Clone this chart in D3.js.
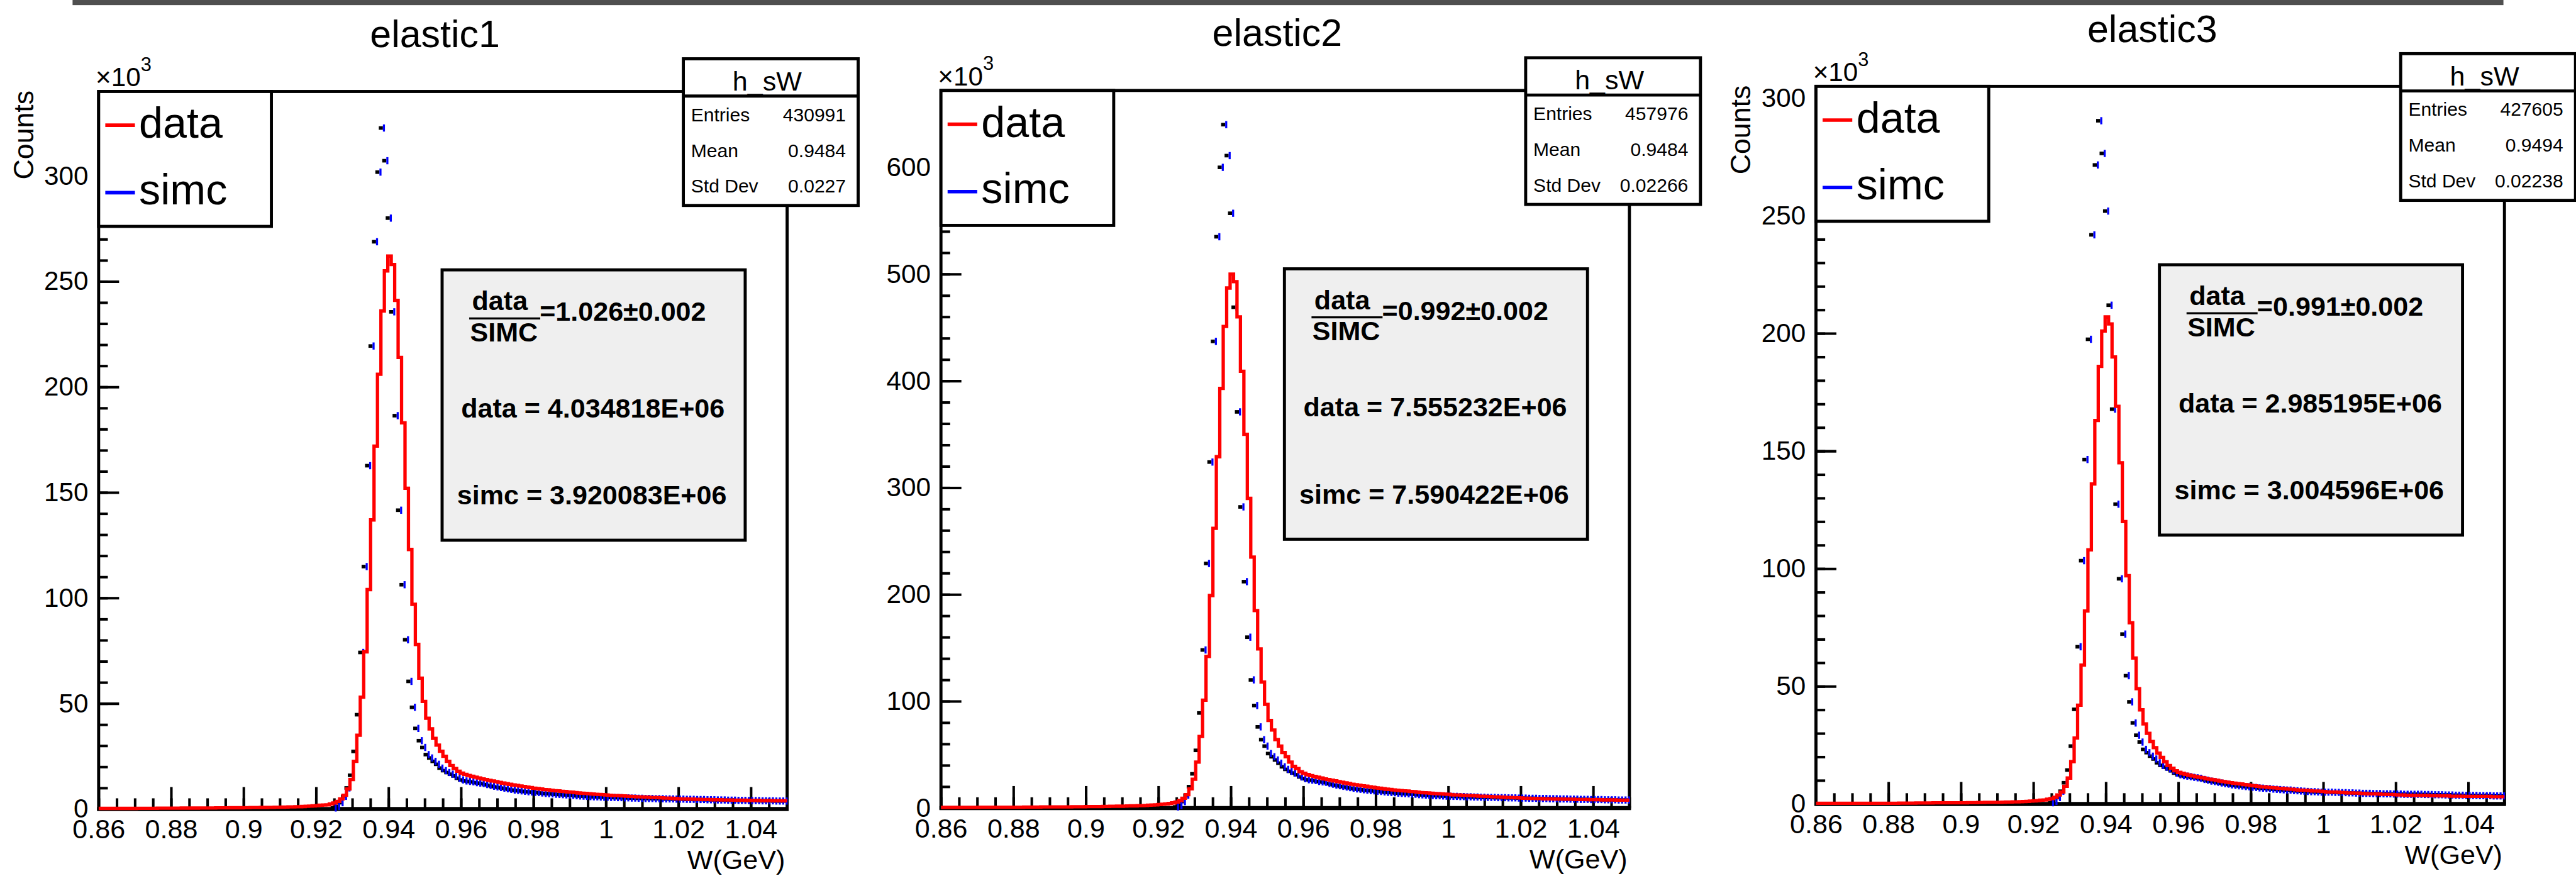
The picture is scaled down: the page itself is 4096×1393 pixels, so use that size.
<!DOCTYPE html>
<html>
<head>
<meta charset="utf-8">
<script src="https://cdn.jsdelivr.net/npm/d3@7"></script>
<style>
  html, body { margin: 0; padding: 0; background: #fff; }
  svg { display: block; }
  text { font-family: "Liberation Sans", Arial, Helvetica, sans-serif; fill: #000; }
</style>
</head>
<body>
<div id="chart--wrapper"></div>
<script>
// W binning of h_sW
const binLow = 0.86;
const binHigh = 1.05;
const binCount = 200;

const titles = ['elastic1', 'elastic2', 'elastic3'];
const entries = ['430991', '457976', '427605'];
const means = ['0.9484', '0.9484', '0.9494'];
const stdDevs = ['0.0227', '0.02266', '0.02238'];
const ratios = ['=1.026\u00b10.002', '=0.992\u00b10.002', '=0.991\u00b10.002'];
const dataTotals = ['data = 4.034818E+06', 'data = 7.555232E+06', 'data = 2.985195E+06'];
const simcTotals = ['simc = 3.920083E+06', 'simc = 7.590422E+06', 'simc = 3.004596E+06'];

// axis ranges and labels (counts in units of 10^3)
const yMax = [340, 672, 305];
const xMajorTicks = [0.86, 0.88, 0.9, 0.92, 0.94, 0.96, 0.98, 1, 1.02, 1.04];
const yMajorTicks1 = [0, 50, 100, 150, 200, 250, 300];
const yMajorTicks2 = [0, 100, 200, 300, 400, 500, 600];
const yMajorTicks3 = [0, 50, 100, 150, 200, 250, 300];
const yMinorStep = [10, 20, 10];

// elastic1
const data1 = [
  0.3, 0.3, 0.3, 0.3, 0.3, 0.3, 0.3, 0.3, 0.3, 0.3,
  0.3, 0.35, 0.35, 0.35, 0.35, 0.35, 0.35, 0.4, 0.4, 0.4,
  0.4, 0.4, 0.4, 0.4, 0.45, 0.45, 0.45, 0.45, 0.45, 0.5,
  0.5, 0.5, 0.5, 0.5, 0.55, 0.55, 0.55, 0.55, 0.6, 0.6,
  0.6, 0.6, 0.65, 0.65, 0.7, 0.7, 0.7, 0.75, 0.75, 0.8,
  0.8, 0.85, 0.85, 0.9, 0.95, 1.0, 1.0, 1.1, 1.1, 1.2,
  1.3, 1.4, 1.5, 1.6, 1.8, 1.9, 2.0, 2.4, 2.9, 3.6,
  4.8, 6.5, 9.5, 14, 22.6, 35, 53, 74.5, 104, 137,
  172, 206, 236, 255, 262, 258, 241, 214, 183, 152,
  123, 97, 78, 62, 51, 43, 38, 33.5, 30.3, 27.4,
  25, 22.6, 20.6, 19.2, 17.9, 17.0, 16.4, 15.9, 15.5, 15.1,
  14.7, 14.3, 14.0, 13.6, 13.3, 13.0, 12.6, 12.3, 12.0, 11.7,
  11.4, 11.2, 10.9, 10.7, 10.4, 10.2, 9.9, 9.7, 9.5, 9.2,
  9.1, 8.9, 8.7, 8.6, 8.4, 8.3, 8.1, 8.0, 7.8, 7.6,
  7.5, 7.4, 7.3, 7.1, 7.0, 6.9, 6.8, 6.7, 6.5, 6.4,
  6.4, 6.3, 6.2, 6.1, 6.0, 5.9, 5.8, 5.8, 5.7, 5.6,
  5.5, 5.5, 5.4, 5.3, 5.2, 5.2, 5.1, 5.0, 4.9, 4.8,
  4.8, 4.7, 4.7, 4.6, 4.6, 4.5, 4.5, 4.5, 4.4, 4.4,
  4.4, 4.3, 4.3, 4.3, 4.2, 4.2, 4.2, 4.2, 4.1, 4.1,
  4.1, 4.1, 4.0, 4.0, 4.0, 4.0, 3.9, 3.9, 3.9, 3.9
];
const simc1 = [
  0, 0, 0, 0, 0, 0, 0, 0, 0, 0,
  0, 0, 0, 0, 0, 0, 0, 0, 0, 0,
  0, 0, 0, 0, 0, 0, 0, 0, 0, 0,
  0, 0, 0, 0, 0, 0, 0, 0, 0, 0,
  0, 0, 0, 0, 0, 0, 0, 0, 0, 0,
  0, 0, 0, 0, 0, 0, 0, 0, 0, 0,
  0, 0, 0, 0, 0, 0, 0, 0, 0.5, 1.2,
  3, 6, 10, 16, 27.3, 44.7, 74.2, 114.9, 162.7, 219.4,
  268.8, 301.8, 322.7, 307.2, 280, 235.6, 186.4, 141.6, 106.3, 80.2,
  60.5, 48.2, 38.2, 32.4, 29.2, 25.8, 24.2, 22.6, 21.2, 19.4,
  18.2, 17.3, 16.5, 15.7, 14.6, 13.8, 13.3, 13.1, 12.9, 12.5,
  12.3, 12.1, 11.6, 11.2, 10.8, 10.5, 10.2, 9.9, 9.6, 9.3,
  9.0, 8.8, 8.6, 8.4, 8.2, 8.1, 7.9, 7.8, 7.6, 7.4,
  7.3, 7.2, 7.0, 6.9, 6.8, 6.7, 6.6, 6.5, 6.3, 6.2,
  6.1, 6.0, 5.9, 5.8, 5.8, 5.7, 5.6, 5.6, 5.5, 5.5,
  5.4, 5.4, 5.3, 5.3, 5.2, 5.2, 5.1, 5.1, 5.0, 5.0,
  5.0, 4.9, 4.9, 4.9, 4.8, 4.8, 4.8, 4.7, 4.7, 4.7,
  4.6, 4.6, 4.6, 4.5, 4.5, 4.5, 4.4, 4.4, 4.4, 4.3,
  4.3, 4.3, 4.2, 4.2, 4.2, 4.1, 4.1, 4.1, 4.0, 4.0,
  4.0, 4.0, 3.9, 3.9, 3.9, 3.9, 3.8, 3.8, 3.8, 3.8
];

// elastic2
const data2 = [
  0.6, 0.6, 0.6, 0.6, 0.6, 0.6, 0.6, 0.6, 0.6, 0.6,
  0.6, 0.7, 0.7, 0.7, 0.7, 0.7, 0.7, 0.8, 0.8, 0.8,
  0.8, 0.8, 0.8, 0.8, 0.9, 0.9, 0.9, 0.9, 0.9, 1.0,
  1.0, 1.0, 1.0, 1.0, 1.1, 1.1, 1.1, 1.1, 1.2, 1.2,
  1.2, 1.2, 1.3, 1.3, 1.4, 1.4, 1.4, 1.5, 1.5, 1.6,
  1.6, 1.7, 1.7, 1.8, 1.9, 2.0, 2.0, 2.2, 2.2, 2.4,
  2.6, 2.8, 3.0, 3.2, 3.5, 3.8, 4.2, 4.8, 5.6, 7.0,
  9.2, 12.5, 18, 27, 43, 67, 101, 142, 199, 262,
  329, 393, 451, 487, 500, 493, 460, 409, 350, 290,
  235, 185, 149, 118, 97, 82, 73, 64, 58, 52,
  48, 43, 39, 37, 34, 32.5, 31.3, 30.4, 29.6, 28.8,
  28.1, 27.3, 26.7, 26.0, 25.4, 24.8, 24.1, 23.5, 22.9, 22.3,
  21.8, 21.4, 20.8, 20.4, 19.9, 19.5, 18.9, 18.5, 18.1, 17.6,
  17.4, 17.0, 16.6, 16.4, 16.0, 15.9, 15.5, 15.3, 14.9, 14.5,
  14.3, 14.1, 13.9, 13.6, 13.4, 13.2, 13.0, 12.8, 12.4, 12.2,
  12.2, 12.0, 11.8, 11.7, 11.5, 11.3, 11.1, 11.1, 10.9, 10.7,
  10.5, 10.5, 10.3, 10.1, 9.9, 9.9, 9.7, 9.6, 9.4, 9.2,
  9.2, 9.0, 9.0, 8.8, 8.8, 8.6, 8.6, 8.6, 8.4, 8.4,
  8.4, 8.2, 8.2, 8.2, 8.0, 8.0, 8.0, 8.0, 7.8, 7.8,
  7.8, 7.8, 7.6, 7.6, 7.6, 7.6, 7.4, 7.4, 7.4, 7.4
];
const simc2 = [
  0, 0, 0, 0, 0, 0, 0, 0, 0, 0,
  0, 0, 0, 0, 0, 0, 0, 0, 0, 0,
  0, 0, 0, 0, 0, 0, 0, 0, 0, 0,
  0, 0, 0, 0, 0, 0, 0, 0, 0, 0,
  0, 0, 0, 0, 0, 0, 0, 0, 0, 0,
  0, 0, 0, 0, 0, 0, 0, 0, 0, 0,
  0, 0, 0, 0, 0, 0, 0, 0, 1, 2.4,
  6, 12, 20, 32, 54, 89, 148, 229, 324, 437,
  535, 600, 640, 611, 557, 469, 371, 282, 212, 160,
  120, 96, 76, 64, 58, 51, 48, 45, 42, 38.6,
  36.2, 34.4, 32.8, 31.2, 29.1, 27.5, 26.5, 26.1, 25.7, 24.9,
  24.5, 24.1, 23.1, 22.3, 21.5, 20.9, 20.3, 19.7, 19.1, 18.5,
  17.9, 17.5, 17.1, 16.7, 16.3, 16.1, 15.7, 15.5, 15.1, 14.7,
  14.5, 14.3, 13.9, 13.7, 13.5, 13.3, 13.1, 12.9, 12.5, 12.3,
  12.1, 11.9, 11.7, 11.5, 11.5, 11.3, 11.1, 11.1, 10.9, 10.9,
  10.7, 10.7, 10.5, 10.5, 10.3, 10.3, 10.1, 10.1, 9.9, 9.9,
  9.9, 9.7, 9.7, 9.7, 9.5, 9.5, 9.5, 9.3, 9.3, 9.3,
  9.1, 9.1, 9.1, 8.9, 8.9, 8.9, 8.7, 8.7, 8.7, 8.5,
  8.5, 8.5, 8.3, 8.3, 8.3, 8.1, 8.1, 8.1, 7.9, 7.9,
  7.9, 7.9, 7.7, 7.7, 7.7, 7.7, 7.5, 7.5, 7.5, 7.5
];

// elastic3
const data3 = [
  0.25, 0.25, 0.25, 0.25, 0.25, 0.25, 0.25, 0.25, 0.25, 0.25,
  0.25, 0.28, 0.28, 0.28, 0.28, 0.28, 0.28, 0.3, 0.3, 0.3,
  0.3, 0.3, 0.3, 0.3, 0.35, 0.35, 0.35, 0.35, 0.35, 0.4,
  0.4, 0.4, 0.4, 0.4, 0.45, 0.45, 0.45, 0.45, 0.5, 0.5,
  0.5, 0.5, 0.5, 0.5, 0.55, 0.55, 0.55, 0.6, 0.6, 0.65,
  0.65, 0.7, 0.7, 0.7, 0.75, 0.8, 0.8, 0.9, 0.9, 0.95,
  1.0, 1.1, 1.2, 1.3, 1.4, 1.6, 1.7, 2.0, 2.3, 2.8,
  3.8, 5.1, 7.5, 11, 18, 28, 42, 59, 82, 108,
  136, 163, 186, 201, 207, 204, 190, 169, 145, 120,
  97, 77, 62, 49, 40, 34, 30, 26.5, 23.9, 21.6,
  19.8, 17.9, 16.3, 15.2, 14.1, 13.4, 13.0, 12.6, 12.2, 11.9,
  11.6, 11.3, 11.1, 10.7, 10.5, 10.3, 10.0, 9.7, 9.5, 9.2,
  9.0, 8.8, 8.6, 8.5, 8.2, 8.1, 7.8, 7.7, 7.5, 7.3,
  7.2, 7.0, 6.9, 6.8, 6.6, 6.6, 6.4, 6.3, 6.2, 6.0,
  5.9, 5.8, 5.8, 5.6, 5.5, 5.5, 5.4, 5.3, 5.1, 5.1,
  5.1, 5.0, 4.9, 4.8, 4.7, 4.7, 4.6, 4.6, 4.5, 4.4,
  4.3, 4.3, 4.3, 4.2, 4.1, 4.1, 4.0, 4.0, 3.9, 3.8,
  3.8, 3.7, 3.7, 3.6, 3.6, 3.6, 3.6, 3.6, 3.5, 3.5,
  3.5, 3.4, 3.4, 3.4, 3.3, 3.3, 3.3, 3.3, 3.2, 3.2,
  3.2, 3.2, 3.2, 3.2, 3.2, 3.2, 3.1, 3.1, 3.1, 3.1
];
const simc3 = [
  0, 0, 0, 0, 0, 0, 0, 0, 0, 0,
  0, 0, 0, 0, 0, 0, 0, 0, 0, 0,
  0, 0, 0, 0, 0, 0, 0, 0, 0, 0,
  0, 0, 0, 0, 0, 0, 0, 0, 0, 0,
  0, 0, 0, 0, 0, 0, 0, 0, 0, 0,
  0, 0, 0, 0, 0, 0, 0, 0, 0, 0,
  0, 0, 0, 0, 0, 0, 0, 0, 0.5, 1.1,
  2.7, 5.4, 9, 14.4, 24.6, 40.2, 66.8, 103.4, 146.4, 197.5,
  241.9, 271.6, 290.4, 276.5, 252, 212, 167.8, 127.4, 95.7, 72.2,
  54.5, 43.4, 34.4, 29.2, 26.3, 23.2, 21.8, 20.3, 19.1, 17.5,
  16.4, 15.6, 14.9, 14.1, 13.1, 12.4, 12.0, 11.8, 11.6, 11.3,
  11.1, 10.9, 10.4, 10.1, 9.7, 9.5, 9.2, 8.9, 8.6, 8.4,
  8.1, 7.9, 7.7, 7.6, 7.4, 7.3, 7.1, 7.0, 6.8, 6.7,
  6.6, 6.5, 6.3, 6.2, 6.1, 6.0, 5.9, 5.9, 5.7, 5.6,
  5.5, 5.4, 5.3, 5.2, 5.2, 5.1, 5.0, 5.0, 5.0, 5.0,
  4.9, 4.9, 4.8, 4.8, 4.7, 4.7, 4.6, 4.6, 4.5, 4.5,
  4.5, 4.4, 4.4, 4.4, 4.3, 4.3, 4.3, 4.2, 4.2, 4.2,
  4.1, 4.1, 4.1, 4.1, 4.1, 4.1, 4.0, 4.0, 4.0, 3.9,
  3.9, 3.9, 3.8, 3.8, 3.8, 3.7, 3.7, 3.7, 3.6, 3.6,
  3.6, 3.6, 3.5, 3.5, 3.5, 3.5, 3.4, 3.4, 3.4, 3.4
];

const dataSeries = [data1, data2, data3];
const simcSeries = [simc1, simc2, simc3];
const yMajorTicks = [yMajorTicks1, yMajorTicks2, yMajorTicks3];

// layout (reference pixels, the viewBox does the 0.812 scaling)
const frame = { left: 193, right: 1540, top: 179, bottom: 1583 };
const panelShift = [[0, 0], [1648, -2], [3360, -10]];
const showCounts = [true, false, true];
const fontTick = 53;
const binWidth = (binHigh - binLow) / binCount;

const svg = d3.select('#chart--wrapper').append('svg')
  .attr('width', 4096)
  .attr('height', 1393)
  .attr('viewBox', '0 0 5040 1714');

svg.append('rect').attr('width', 5040).attr('height', 1714).attr('fill', '#fff');
// window title strip at the top of the screenshot
svg.append('rect')
  .attr('x', 142).attr('y', 0)
  .attr('width', 4898 - 142).attr('height', 10)
  .attr('fill', '#4f4f4f');

function styleAxis(sel, size) {
  sel.select('.domain').remove();
  sel.attr('font-family', null).attr('font-size', null);
  sel.selectAll('.tick line').attr('stroke', '#000').attr('stroke-width', 5);
  sel.selectAll('.tick text').attr('font-size', size).attr('fill', '#000');
}

function drawPanel(k) {
  const g = svg.append('g')
    .attr('transform', 'translate(' + panelShift[k][0] + ',' + panelShift[k][1] + ')');

  const x = d3.scaleLinear().domain([binLow, binHigh]).range([frame.left, frame.right]);
  const y = d3.scaleLinear().domain([0, yMax[k]]).range([frame.bottom, frame.top]);

  // title
  g.append('text')
    .attr('x', 851).attr('y', 92)
    .attr('text-anchor', 'middle')
    .attr('font-size', 75)
    .text(titles[k]);

  // frame
  g.append('rect')
    .attr('x', frame.left).attr('y', frame.top)
    .attr('width', frame.right - frame.left)
    .attr('height', frame.bottom - frame.top)
    .attr('fill', 'none')
    .attr('stroke', '#000')
    .attr('stroke-width', 6);

  // x axis: minor ticks then labelled ticks, both pointing up into the frame
  const xMinor = d3.range(0, 39).map(function (i) { return binLow + i * 0.005; });
  g.append('g')
    .attr('transform', 'translate(0,' + frame.bottom + ')')
    .call(d3.axisBottom(x).tickValues(xMinor).tickSize(-21).tickFormat(''))
    .call(styleAxis, fontTick);
  g.append('g')
    .attr('transform', 'translate(0,' + frame.bottom + ')')
    .call(d3.axisBottom(x).tickValues(xMajorTicks).tickSize(-43).tickPadding(20).tickFormat(d3.format('~g')))
    .call(styleAxis, fontTick);

  // y axis
  const yMinor = d3.range(0, yMax[k], yMinorStep[k]);
  g.append('g')
    .attr('transform', 'translate(' + frame.left + ',0)')
    .call(d3.axisLeft(y).tickValues(yMinor).tickSize(-18).tickFormat(''))
    .call(styleAxis, fontTick);
  g.append('g')
    .attr('transform', 'translate(' + frame.left + ',0)')
    .call(d3.axisLeft(y).tickValues(yMajorTicks[k]).tickSize(-40).tickPadding(20).tickFormat(d3.format('d')))
    .call(styleAxis, 52);

  // bottom axis line sits a little heavier than the frame
  g.append('line')
    .attr('x1', frame.left - 3).attr('x2', frame.right + 3)
    .attr('y1', frame.bottom).attr('y2', frame.bottom)
    .attr('stroke', '#000').attr('stroke-width', 8);

  // x10^3 exponent
  const expo = g.append('text').attr('x', 187).attr('y', frame.top - 10).attr('font-size', 52);
  expo.append('tspan').text('\u00d710');
  expo.append('tspan').attr('dy', -30).attr('font-size', 38).text('3');

  if (showCounts[k]) {
    g.append('text')
      .attr('transform', 'translate(65,' + (frame.top - 2) + ') rotate(-90)')
      .attr('text-anchor', 'end')
      .attr('font-size', 55)
      .text('Counts');
  }

  g.append('text')
    .attr('x', 1536).attr('y', 1701)
    .attr('text-anchor', 'end')
    .attr('font-size', 53)
    .text('W(GeV)');

  const plot = g.append('g');

  // simc: black marker with blue error bar, one per filled bin
  const simc = simcSeries[k].map(function (v, i) {
    return { w: binLow + (i + 0.5) * binWidth, v: v };
  }).filter(function (d) { return d.v > 0; });

  plot.selectAll('rect.simc-mark')
    .data(simc)
    .join('rect')
    .attr('class', 'simc-mark')
    .attr('x', function (d) { return x(d.w) - 7.5; })
    .attr('y', function (d) { return y(d.v) - 3.5; })
    .attr('width', 8)
    .attr('height', 7)
    .attr('fill', '#000');

  plot.selectAll('rect.simc-err')
    .data(simc)
    .join('rect')
    .attr('class', 'simc-err')
    .attr('x', function (d) { return x(d.w) + 0.5; })
    .attr('y', function (d) { return y(d.v) - 7; })
    .attr('width', 4)
    .attr('height', 14)
    .attr('fill', '#0000ff');

  // data: red step histogram
  const steps = dataSeries[k].map(function (v, i) { return [binLow + i * binWidth, v]; });
  steps.push([binHigh, dataSeries[k][binCount - 1]]);
  const line = d3.line()
    .x(function (d) { return x(d[0]); })
    .y(function (d) { return y(d[1]); })
    .curve(d3.curveStepAfter);
  plot.append('path')
    .datum(steps)
    .attr('d', line)
    .attr('fill', 'none')
    .attr('stroke', '#ff0000')
    .attr('stroke-width', 6.5)
    .attr('stroke-linejoin', 'miter');

  // legend
  const legend = g.append('g');
  legend.append('rect')
    .attr('x', frame.left).attr('y', frame.top)
    .attr('width', 338).attr('height', 264)
    .attr('fill', '#fff').attr('stroke', '#000').attr('stroke-width', 6);
  [['data', '#ff0000', 245, 270], ['simc', '#0000ff', 377, 400]].forEach(function (e) {
    legend.append('line')
      .attr('x1', 206).attr('x2', 264)
      .attr('y1', e[2]).attr('y2', e[2])
      .attr('stroke', e[1]).attr('stroke-width', 7);
    legend.append('text')
      .attr('x', 272).attr('y', e[3])
      .attr('font-size', 84)
      .text(e[0]);
  });

  // ratio box
  const box = g.append('g').attr('font-weight', 'bold');
  box.append('rect')
    .attr('x', 865).attr('y', 528)
    .attr('width', 593).attr('height', 529)
    .attr('fill', '#efefef').attr('stroke', '#000').attr('stroke-width', 6);
  box.append('text').attr('x', 978).attr('y', 607).attr('text-anchor', 'middle')
    .attr('font-size', 53).text('data');
  box.append('line').attr('x1', 918).attr('x2', 1057).attr('y1', 623).attr('y2', 623)
    .attr('stroke', '#000').attr('stroke-width', 4);
  box.append('text').attr('x', 986).attr('y', 668).attr('text-anchor', 'middle')
    .attr('font-size', 53).text('SIMC');
  box.append('text').attr('x', 1056).attr('y', 628)
    .attr('font-size', 53).text(ratios[k]);
  box.append('text').attr('x', 1160).attr('y', 817).attr('text-anchor', 'middle')
    .attr('font-size', 53).text(dataTotals[k]);
  box.append('text').attr('x', 1158).attr('y', 987).attr('text-anchor', 'middle')
    .attr('font-size', 53).text(simcTotals[k]);

  // stats box
  const stats = g.append('g');
  stats.append('rect')
    .attr('x', 1337).attr('y', 115)
    .attr('width', 342).attr('height', 287)
    .attr('fill', '#fff').attr('stroke', '#000').attr('stroke-width', 6);
  stats.append('line')
    .attr('x1', 1337).attr('x2', 1679).attr('y1', 188).attr('y2', 188)
    .attr('stroke', '#000').attr('stroke-width', 6);
  stats.append('text').attr('x', 1501).attr('y', 177).attr('text-anchor', 'middle')
    .attr('font-size', 53).text('h_sW');
  [['Entries', entries[k], 237], ['Mean', means[k], 307], ['Std Dev', stdDevs[k], 377]].forEach(function (r) {
    stats.append('text').attr('x', 1352).attr('y', r[2]).attr('font-size', 37).text(r[0]);
    stats.append('text').attr('x', 1655).attr('y', r[2]).attr('text-anchor', 'end')
      .attr('font-size', 37).text(r[1]);
  });
}

[0, 1, 2].forEach(drawPanel);
</script>
</body>
</html>
